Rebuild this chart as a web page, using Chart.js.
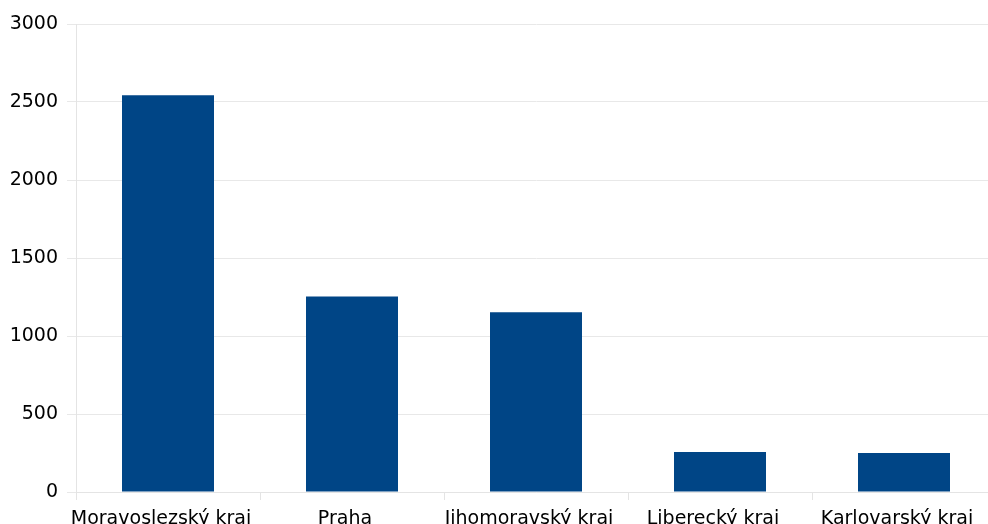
<!DOCTYPE html>
<html>
<head>
<meta charset="utf-8">
<script src="https://cdn.jsdelivr.net/npm/chart.js@4/dist/chart.umd.min.js"></script>
<style>
  html, body { margin: 0; padding: 0; overflow: hidden; background: #fff; }
  #wrap { position: absolute; left: 0; top: 0; width: 1000px; height: 540px; }
</style>
</head>
<body>
<div id="wrap"><canvas id="krajeChart"></canvas></div>
<script>
const categories = [
  "Moravoslezský kraj",
  "Praha",
  "Jihomoravský kraj",
  "Liberecký kraj",
  "Karlovarský kraj",
];
const values = [2543, 1254, 1152, 256, 250];
const yTicks = [0, 500, 1000, 1500, 2000, 2500, 3000];

let ctx = document.getElementById("krajeChart").getContext("2d");

let krajeChart = new Chart(ctx, {
  type: "bar",
  data: {
    labels: categories,
    datasets: [
      {
        data: values,
        backgroundColor: "#004586",
        borderWidth: 0,
        barPercentage: 0.5,
        categoryPercentage: 1,
      },
    ],
  },
  options: {
    responsive: true,
    maintainAspectRatio: false,
    animation: false,
    layout: {
      padding: { left: 10, right: 4, top: 24, bottom: 0 },
    },
    plugins: {
      legend: { display: false },
      tooltip: { enabled: false },
    },
    scales: {
      x: {
        grid: {
          offset: true,
          drawOnChartArea: false,
          drawTicks: true,
          tickLength: 8,
          color: "#e4e4e4",
        },
        border: { color: "#e4e4e4" },
        ticks: {
          color: "#000",
          padding: 8,
          labelOffset: -7,
          maxRotation: 0,
          autoSkip: false,
          font: { family: "DejaVu Sans", size: 19 },
        },
        afterFit: (scale) => {
          scale.height = 48;
        },
      },
      y: {
        min: 0,
        max: 3000,
        afterBuildTicks: (scale) => {
          scale.ticks = yTicks.map((v) => ({ value: v }));
        },
        grid: {
          color: "#e8e8e8",
          tickLength: 9,
        },
        border: { color: "#e4e4e4" },
        ticks: {
          color: "#000",
          padding: 9,
          font: { family: "DejaVu Sans", size: 19 },
          callback: (v) => String(v),
        },
        afterFit: (scale) => {
          scale.width = 66;
        },
      },
    },
  },
});
</script>
</body>
</html>
